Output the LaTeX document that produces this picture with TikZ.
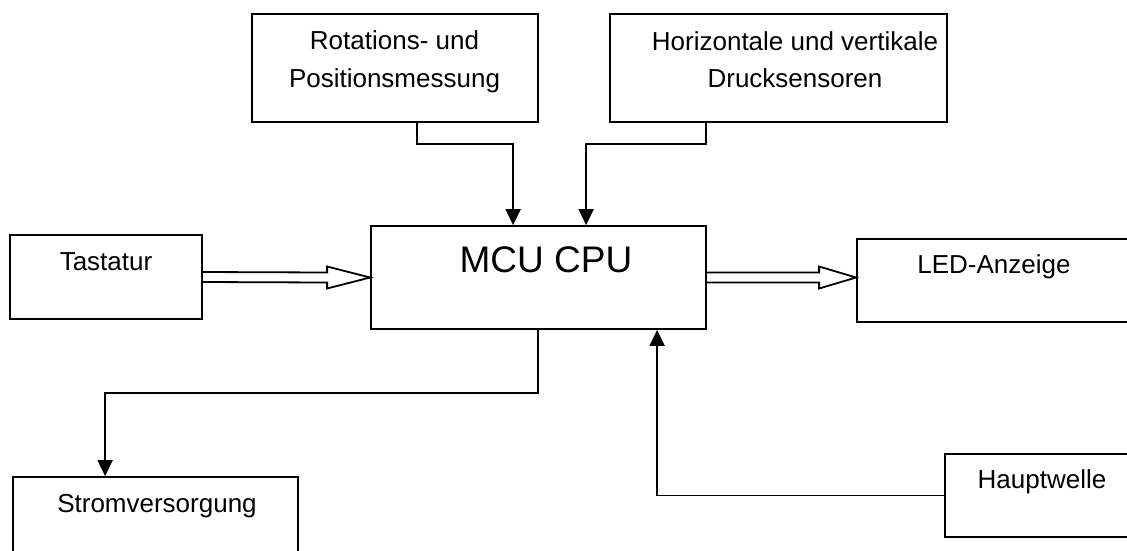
\documentclass[tikz,border=0pt]{standalone}
\usepackage{fontspec}
\setmainfont{Liberation Sans}
\usetikzlibrary{arrows.meta}
\begin{document}
\begin{tikzpicture}[x=1pt,y=-1pt,
  box/.style={draw, line width=1.8pt, rectangle, inner sep=0pt},
  txt/.style={anchor=base, inner sep=0pt, font=\fontsize{26}{30}\selectfont},
  conn/.style={line width=1.8pt, -{Triangle[length=16pt,width=15pt]}},
  dbl/.style={line width=1.8pt, line join=miter}]
\useasboundingbox (0,0) rectangle (1127,550);
\clip (0,0) rectangle (1127,550);
% boxes
\node[box, minimum width=286pt, minimum height=108pt] (rot) at (395,68) {};
\node[box, minimum width=337pt, minimum height=108pt] (hor) at (778.5,68) {};
\node[box, minimum width=192pt, minimum height=84pt] (tas) at (106,277) {};
\node[box, minimum width=335pt, minimum height=103pt] (mcu) at (538.5,277.5) {};
\node[box, minimum width=283pt, minimum height=83pt] (led) at (998.5,280.5) {};
\node[box, minimum width=195pt, minimum height=83pt] (hau) at (1042.5,495.5) {};
\node[box, minimum width=285pt, minimum height=83pt] (str) at (155.5,518.5) {};
% texts
\node[txt] (rotA) at (394.5,49) {Rotations- und};
\node[txt] (rotB) at (394.5,87) {Positionsmessung};
\node[txt] (horA) at (795,50) {Horizontale und vertikale};
\node[txt] (horB) at (795,87) {Drucksensoren};
\node[txt] (tasT) at (106,270) {Tastatur};
\node[txt, font=\fontsize{37}{40}\selectfont] (mcuT) at (546,272) {MCU CPU};
\node[txt] (ledT) at (994,273) {LED-Anzeige};
\node[txt] (hauT) at (1042,488) {Hauptwelle};
\node[txt] (strT) at (157,512) {Stromversorgung};
% connectors
\draw[conn] ([xshift=166pt]rot.south west) -- ++(0,21) -| ([xshift=143pt]mcu.north west);
\draw[conn] ([xshift=97pt]hor.south west) -- ++(0,21) -| ([xshift=216pt]mcu.north west);
\draw[conn] ([xshift=168pt]mcu.south west) -- ++(0,63) -| ([xshift=93pt]str.north west);
\draw[conn] (hau.west) -| ([xshift=287pt]mcu.south west);
% double arrows
\draw[dbl] ([yshift=5pt]tas.east) -- ([xshift=-43pt,yshift=5pt]mcu.west)
  -- ([xshift=-43pt,yshift=11pt]mcu.west) -- (mcu.west)
  -- ([xshift=-43pt,yshift=-11pt]mcu.west) -- ([xshift=-43pt,yshift=-5pt]mcu.west)
  -- ([yshift=-5pt]tas.east);
\coordinate (ledtip) at (mcu.east -| led.west);
\draw[dbl] ([yshift=5pt]mcu.east) -- ([xshift=-37pt,yshift=5pt]ledtip)
  -- ([xshift=-37pt,yshift=11pt]ledtip) -- (ledtip)
  -- ([xshift=-37pt,yshift=-11pt]ledtip) -- ([xshift=-37pt,yshift=-5pt]ledtip)
  -- ([yshift=-5pt]mcu.east);
\end{tikzpicture}
\end{document}
